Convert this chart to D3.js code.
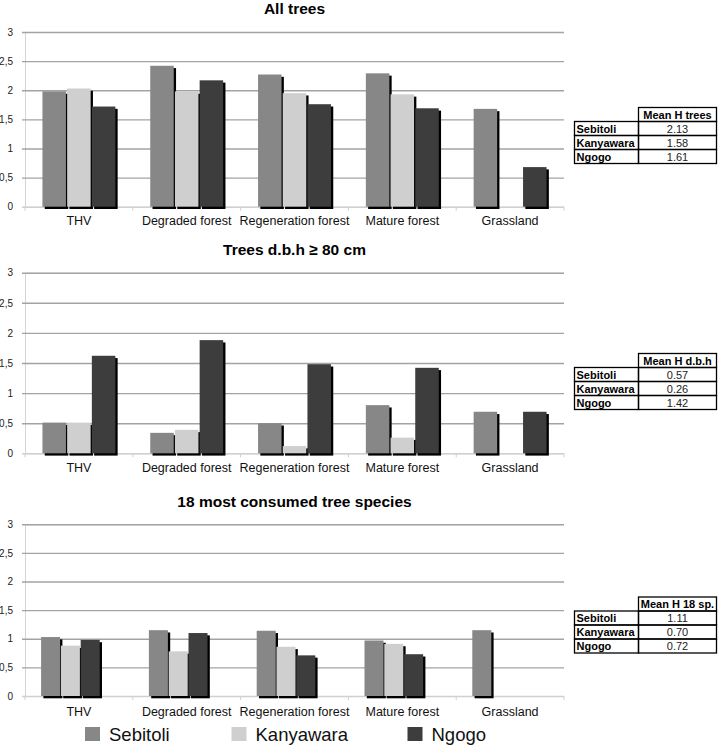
<!DOCTYPE html>
<html><head><meta charset="utf-8">
<script src="https://cdn.jsdelivr.net/npm/d3@7"></script>
<style>body{margin:0;background:#fff}svg{display:block;font-family:"Liberation Sans",Arial,sans-serif}</style>
</head><body><svg id="c" width="720" height="745"></svg>
<script>
const categories = ["THV","Degraded forest","Regeneration forest","Mature forest","Grassland"];
const seriesNames = ["Sebitoli","Kanyawara","Ngogo"];
const seriesColors = ["#878787","#cfcfcf","#3d3d3d"];
const yTicks = [0,0.5,1,1.5,2,2.5,3];
const yTickLabels = ["0","0,5","1","1,5","2","2,5","3"];

const titles = ["All trees","Trees d.b.h \u2265 80 cm","18 most consumed tree species"];
// values per panel: [Sebitoli, Kanyawara, Ngogo] per category
const allTrees = [[1.98,2.03,1.72],[2.42,1.98,2.17],[2.27,1.95,1.76],[2.29,1.93,1.69],[1.68,null,0.68]];
const dbhTrees = [[0.51,0.51,1.62],[0.34,0.39,1.88],[0.50,0.12,1.48],[0.80,0.26,1.42],[0.69,null,0.69]];
const consumed18 = [[1.03,0.88,0.98],[1.15,0.78,1.10],[1.14,0.86,0.71],[0.97,0.91,0.73],[1.15,null,null]];

const tableHeaders = ["Mean H trees","Mean H d.b.h","Mean H 18 sp."];
const tableAllTrees = ["2.13","1.58","1.61"];
const tableDbh = ["0.57","0.26","1.42"];
const table18 = ["1.11","0.70","0.72"];

const panels = [
  {data: allTrees, table: tableAllTrees, top: 32, bottom: 206.7, titleY: 13.5, catY: 225, barW: 23.5, step: 24.7, shift: 0, tableY: 107.5},
  {data: dbhTrees, table: tableDbh, top: 272.7, bottom: 453.3, titleY: 255, catY: 472, barW: 23.5, step: 24.7, shift: 0, tableY: 353.5},
  {data: consumed18, table: table18, top: 524.3, bottom: 696, titleY: 507, catY: 716, barW: 19, step: 19.8, shift: -8.5, tableY: 597}
];

const svg = d3.select("#c");
const x = d3.scaleBand().domain(categories).range([25,564]).padding(0);

panels.forEach((p,pi)=>{
  const g = svg.append("g");
  const y = d3.scaleLinear().domain([0,3]).range([p.bottom,p.top]);
  const yAxis = d3.axisLeft(y).tickValues(yTicks).tickSize(-539).tickPadding(8)
    .tickFormat((d,i)=>yTickLabels[i]);
  const ya = g.append("g").attr("transform","translate(25,0)").call(yAxis);
  ya.select(".domain").attr("stroke","#d4d4d4").attr("stroke-width",1);
  ya.selectAll(".tick line").attr("stroke",(d)=>d===0?"#d0d0d0":"#a3a3a3").attr("stroke-width",1.4).attr("x1",-3);
  ya.selectAll(".tick text").attr("font-size",10).attr("fill","#222").attr("x",-12);
  const bounds = categories.map(c=>x(c)).concat([564]);
  g.selectAll(".bt").data(bounds).enter().append("line")
    .attr("x1",d=>d).attr("x2",d=>d).attr("y1",p.bottom).attr("y2",p.bottom+4)
    .attr("stroke","#d0d0d0").attr("stroke-width",1);
  g.selectAll(".cl").data(categories).enter().append("text")
    .attr("x",d=>x(d)+x.bandwidth()/2).attr("y",p.catY).attr("text-anchor","middle")
    .attr("font-size",12.5).attr("fill","#111").text(d=>d);
  const bars = [];
  p.data.forEach((vals,ci)=>vals.forEach((v,si)=>{ if(v!=null) bars.push({c:categories[ci],s:si,v}); }));
  const bx = d=> x(d.c)+x.bandwidth()/2 + p.shift + (d.s-1)*p.step - p.barW/2;
  g.selectAll(".sh").data(bars).enter().append("rect")
    .attr("x",d=>bx(d)+2.3).attr("y",d=>y(d.v)+2.3).attr("width",p.barW)
    .attr("height",d=>p.bottom-y(d.v)).attr("fill","#000");
  g.selectAll(".br").data(bars).enter().append("rect")
    .attr("x",bx).attr("y",d=>y(d.v)).attr("width",p.barW)
    .attr("height",d=>p.bottom-y(d.v)).attr("fill",d=>seriesColors[d.s]);
  g.append("text").attr("x",294.5).attr("y",p.titleY).attr("text-anchor","middle")
    .attr("font-size",15.5).attr("font-weight","bold").attr("fill","#000").text(titles[pi]);
  const tx0 = 574.5, tx1 = 638.5, tx2 = 716.5, rh = 14;
  const t = g.append("g");
  t.append("rect").attr("x",tx1).attr("y",p.tableY).attr("width",tx2-tx1).attr("height",rh)
    .attr("fill","none").attr("stroke","#000").attr("stroke-width",1.3);
  t.append("text").attr("x",(tx1+tx2)/2).attr("y",p.tableY+11).attr("text-anchor","middle")
    .attr("font-size",11).attr("font-weight","bold").text(tableHeaders[pi]);
  seriesNames.forEach((n,i)=>{
    const ry = p.tableY+rh*(i+1);
    t.append("rect").attr("x",tx0).attr("y",ry).attr("width",tx1-tx0).attr("height",rh)
      .attr("fill","none").attr("stroke","#000").attr("stroke-width",1.3);
    t.append("rect").attr("x",tx1).attr("y",ry).attr("width",tx2-tx1).attr("height",rh)
      .attr("fill","none").attr("stroke","#000").attr("stroke-width",1.3);
    t.append("text").attr("x",tx0+2).attr("y",ry+11).attr("font-size",11).attr("font-weight","bold").text(n);
    t.append("text").attr("x",(tx1+tx2)/2).attr("y",ry+11).attr("text-anchor","middle")
      .attr("font-size",11).attr("fill","#222").text(p.table[i]);
  });
});

const legendX = [85,231.5,407.5];
const lg = svg.append("g");
seriesNames.forEach((n,i)=>{
  lg.append("rect").attr("x",legendX[i]).attr("y",727).attr("width",15).attr("height",14).attr("fill",seriesColors[i]);
  lg.append("text").attr("x",legendX[i]+24).attr("y",740.5).attr("font-size",18.5).attr("fill","#111").text(n);
});
</script></body></html>
